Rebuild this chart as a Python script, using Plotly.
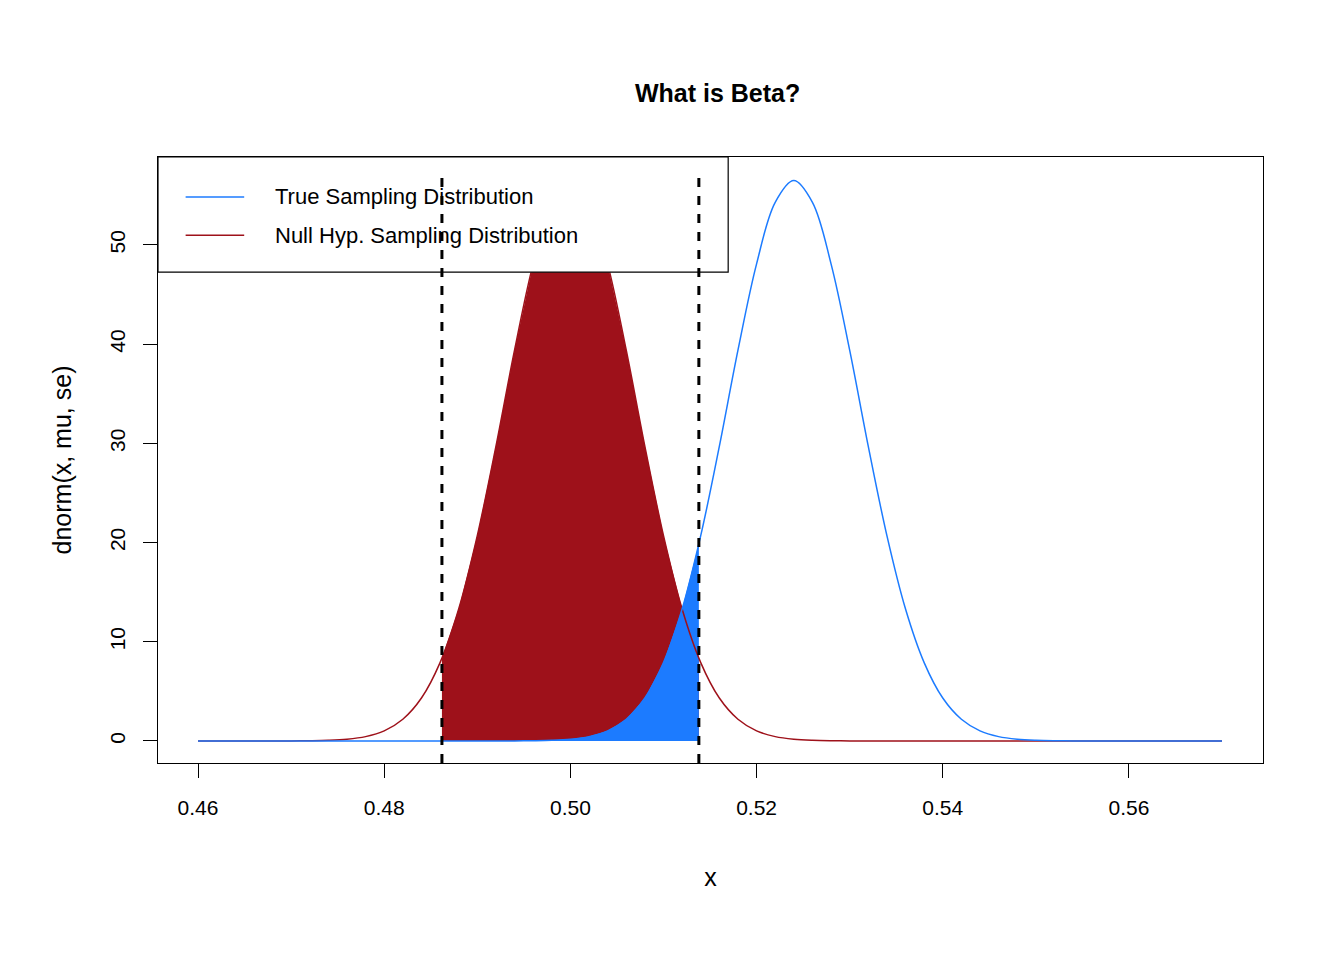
import plotly.graph_objects as go

# values (x step 0.002)
x = [0.460, 0.462, 0.464, 0.466, 0.468, 0.470, 0.472, 0.474, 0.476, 0.478,
     0.480, 0.482, 0.484, 0.486, 0.488, 0.490, 0.492, 0.494, 0.496, 0.498,
     0.500, 0.502, 0.504, 0.506, 0.508, 0.510, 0.512, 0.514, 0.516, 0.518,
     0.520, 0.522, 0.524, 0.526, 0.528, 0.530, 0.532, 0.534, 0.536, 0.538,
     0.540, 0.542, 0.544, 0.546, 0.548, 0.550, 0.552, 0.554, 0.556, 0.558,
     0.560, 0.562, 0.564, 0.566, 0.568, 0.570]
null_y = [0, 0, 0, 0, 0.002, 0.007, 0.022, 0.064, 0.175, 0.44,
          1.02, 2.19, 4.33, 7.9, 13.3, 20.7, 29.7, 39.4, 48.1, 54.3,
          56.5, 54.3, 48.1, 39.4, 29.7, 20.7, 13.3, 7.9, 4.33, 2.19,
          1.02, 0.44, 0.175, 0.064, 0.022, 0.007, 0.002, 0, 0, 0,
          0, 0, 0, 0, 0, 0, 0, 0, 0, 0,
          0, 0, 0, 0, 0, 0]
true_y = [0, 0, 0, 0, 0, 0, 0, 0, 0, 0,
          0, 0, 0, 0, 0, 0, 0.002, 0.007, 0.022, 0.064,
          0.175, 0.44, 1.02, 2.19, 4.33, 7.9, 13.3, 20.7, 29.7, 39.4,
          48.1, 54.3, 56.5, 54.3, 48.1, 39.4, 29.7, 20.7, 13.3, 7.9,
          4.33, 2.19, 1.02, 0.44, 0.175, 0.064, 0.022, 0.007, 0.002, 0,
          0, 0, 0, 0, 0, 0]
crit = [0.4862, 0.5138]
null_at_crit = [8.4, 8.4]
true_at_crit = [0.0, 19.9]

RED = "#9E111A"
BLUE = "#1C7BFF"

def shade(ys, ycrit):
    xs = [crit[0]] + [v for v in x if crit[0] < v < crit[1]] + [crit[1]]
    yy = [ycrit[0]] + [ys[i] for i, v in enumerate(x) if crit[0] < v < crit[1]] + [ycrit[1]]
    return xs + [crit[1], crit[0]], yy + [0, 0]

fig = go.Figure()
sx, sy = shade(null_y, null_at_crit)
fig.add_trace(go.Scatter(x=sx, y=sy, fill="toself", fillcolor=RED, mode="none"))
sx, sy = shade(true_y, true_at_crit)
fig.add_trace(go.Scatter(x=sx, y=sy, fill="toself", fillcolor=BLUE, mode="none"))
fig.add_trace(go.Scatter(x=x, y=null_y, mode="lines", line=dict(color=RED, width=1.5, shape="spline")))
fig.add_trace(go.Scatter(x=x, y=true_y, mode="lines", line=dict(color=BLUE, width=1.5, shape="spline")))

# legend box drawn by hand so the dashed lines sit over it
shapes = [dict(type="rect", xref="x domain", yref="y domain", x0=0, x1=0.516, y0=0.81, y1=1,
               fillcolor="white", line=dict(color="black", width=1.2), layer="above")]
for c in crit:
    shapes.append(dict(type="line", xref="x", yref="y domain", x0=c, x1=c, y0=0, y1=0.98,
                       line=dict(color="black", width=3, dash="dash"), layer="above"))
for yy, col in [(0.934, BLUE), (0.871, RED)]:
    shapes.append(dict(type="line", xref="x domain", yref="y domain", x0=0.025, x1=0.078,
                       y0=yy, y1=yy, line=dict(color=col, width=1.5), layer="above"))
annotations = [
    dict(xref="x domain", yref="y domain", x=0.104, y=0.934, text="True Sampling Distribution",
         showarrow=False, xanchor="left", yanchor="middle", font=dict(size=22)),
    dict(xref="x domain", yref="y domain", x=0.104, y=0.871, text="Null Hyp. Sampling Distribution",
         showarrow=False, xanchor="left", yanchor="middle", font=dict(size=22)),
]

fig.update_layout(
    width=1344, height=960, showlegend=False,
    plot_bgcolor="white", paper_bgcolor="white",
    font=dict(family="Liberation Sans, Arial", size=21, color="black"),
    title=dict(text="<b>What is Beta?</b>", x=0.528, y=0.92, xanchor="center", font=dict(size=25)),
    margin=dict(l=150, r=89, t=149, b=205),
    shapes=shapes, annotations=annotations,
    xaxis=dict(range=[0.4557, 0.5744], tickvals=[0.46, 0.48, 0.50, 0.52, 0.54, 0.56],
               ticktext=["0.46", "0.48", "0.50", "0.52", "0.54", "0.56"],
               showgrid=False, zeroline=False, showline=True, mirror=True, linecolor="black",
               ticks="outside", ticklen=14, tickcolor="black", ticklabelstandoff=12,
               title=dict(text="x", standoff=50)),
    yaxis=dict(range=[-2.22, 58.87], tickvals=[0, 10, 20, 30, 40, 50], tickangle=-90,
               showgrid=False, zeroline=False, showline=True, mirror=True, linecolor="black",
               ticks="outside", ticklen=14, tickcolor="black", ticklabelstandoff=10,
               title=dict(text="dnorm(x, mu, se)", standoff=26)),
)
fig.write_html("out.html")
